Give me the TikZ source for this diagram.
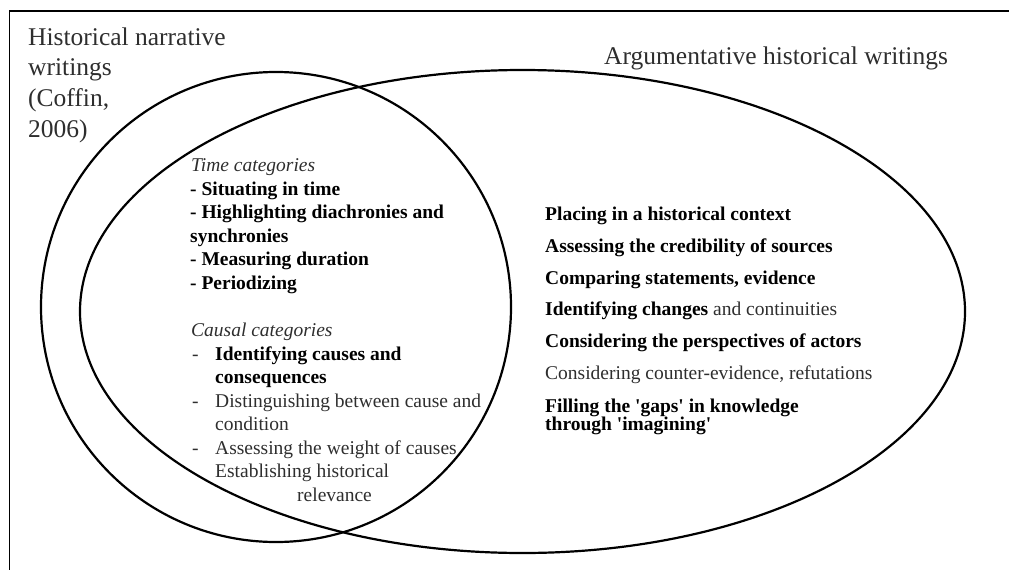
\documentclass[tikz,border=0pt]{standalone}
\usepackage{fontspec}
\setmainfont{Liberation Serif}
\definecolor{plaintext}{gray}{0.18}
\tikzset{
  venn/.style={line width=2.2pt},
  frameline/.style={line width=1.8pt},
  headtext/.style={anchor=base west, inner sep=0pt, text=plaintext, font=\fontsize{25.5}{30.7}\selectfont},
  boldtext/.style={anchor=base west, inner sep=0pt, font=\fontsize{19.5}{23.4}\selectfont\bfseries},
  plaintext/.style={anchor=base west, inner sep=0pt, text=plaintext, font=\fontsize{19.5}{23.4}\selectfont},
  cattext/.style={anchor=base west, inner sep=0pt, text=plaintext, font=\fontsize{19.5}{23.4}\selectfont\itshape},
}
\begin{document}
\begin{tikzpicture}[x=1pt,y=-1pt] %Venn: escritos narrativos y argumentativos
            \useasboundingbox (0,0) rectangle (1009,570);
            \draw[frameline] (9.5,570) -- (9.5,11) -- (1009,11);
            \draw[venn] (276,307) circle [x radius=235, y radius=235];
            \draw[venn] (522.5,311.5) circle [x radius=442.5, y radius=241.5];

            \node[headtext] (narr1) at (28,45) {Historical narrative};
            \node[headtext] (narr2) at (28,75.5) {writings};
            \node[headtext] (narr3) at (28,106) {(Coffin,};
            \node[headtext] (narr4) at (28,137) {2006)};
            \node[headtext] (argu) at (604,64) {Argumentative historical writings};

            \node[cattext] (timecat) at (191,171.5) {Time categories};
            \node[boldtext] (time1) at (190,195) {- Situating in time};
            \node[boldtext] (time2) at (190,218.5) {- Highlighting diachronies and};
            \node[boldtext] (time2b) at (190,242) {synchronies};
            \node[boldtext] (time3) at (190,265.5) {- Measuring duration};
            \node[boldtext] (time4) at (190,289) {- Periodizing};

            \node[cattext] (causecat) at (191,336) {Causal categories};
            \node[plaintext] (dash1) at (192,360) {-};
            \node[boldtext] (cause1) at (215,360) {Identifying causes and};
            \node[boldtext] (cause1b) at (215,383.5) {consequences};
            \node[plaintext] (dash2) at (192,407) {-};
            \node[plaintext] (cause2) at (215,407) {Distinguishing between cause and};
            \node[plaintext] (cause2b) at (215,430) {condition};
            \node[plaintext] (dash3) at (192,454) {-};
            \node[plaintext] (cause3) at (215,454) {Assessing the weight of causes};
            \node[plaintext] (cause4) at (215,477.5) {Establishing historical};
            \node[plaintext] (cause4b) at (297,501) {relevance};

            \node[boldtext] (arg1) at (545,220) {Placing in a historical context};
            \node[boldtext] (arg2) at (545,252) {Assessing the credibility of sources};
            \node[boldtext] (arg3) at (545,284) {Comparing statements, evidence};
            \node[plaintext] (arg4) at (545,315.5) {{\color{black}\bfseries Identifying changes} and continuities};
            \node[boldtext] (arg5) at (545,347) {Considering the perspectives of actors};
            \node[plaintext] (arg6) at (545,379) {Considering counter-evidence, refutations};
            \node[boldtext] (arg7) at (545,412) {Filling the \textquotesingle gaps\textquotesingle{} in knowledge};
            \node[boldtext] (arg7b) at (545,430) {through \textquotesingle imagining\textquotesingle};
        \end{tikzpicture}
\end{document}
